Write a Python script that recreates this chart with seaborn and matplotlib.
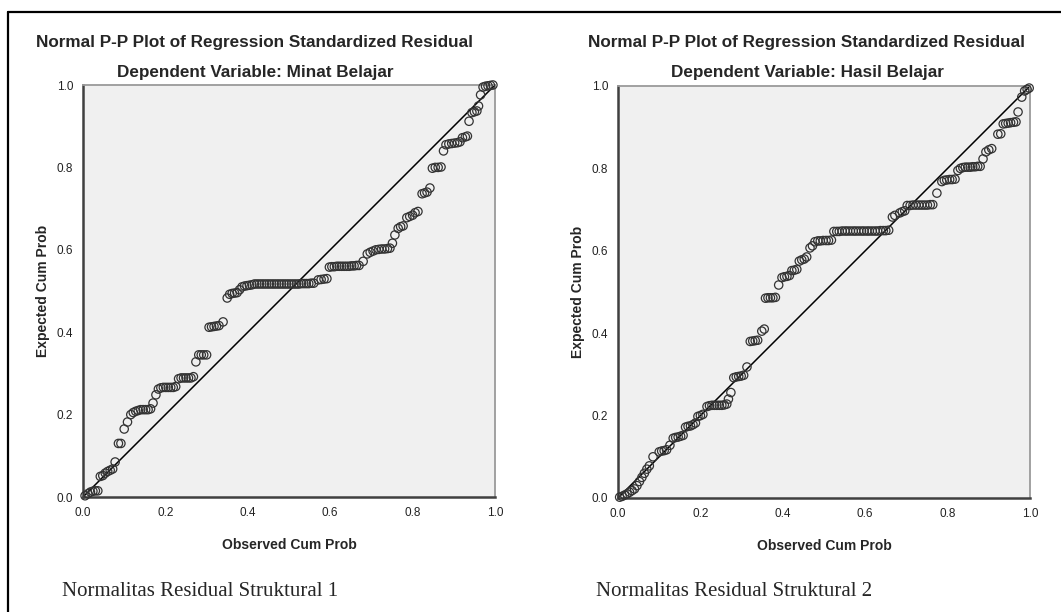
import numpy as np
import pandas as pd
import matplotlib
matplotlib.use("Agg")
import matplotlib.pyplot as plt
from matplotlib.lines import Line2D
import seaborn as sns

# Observed / expected cumulative probabilities
obs_minat = [0.005, 0.012, 0.018, 0.024, 0.030, 0.036, 0.042, 0.048, 0.054, 0.060,
             0.066, 0.072, 0.078, 0.086, 0.092, 0.100, 0.108, 0.116, 0.122, 0.128,
             0.134, 0.140, 0.146, 0.152, 0.158, 0.164, 0.170, 0.177, 0.183, 0.189,
             0.195, 0.201, 0.207, 0.213, 0.219, 0.225, 0.232, 0.238, 0.244, 0.250,
             0.256, 0.262, 0.268, 0.274, 0.281, 0.287, 0.293, 0.300, 0.306, 0.312,
             0.318, 0.324, 0.330, 0.340, 0.350, 0.356, 0.362, 0.368, 0.374, 0.380,
             0.386, 0.392, 0.398, 0.404, 0.410, 0.416, 0.422, 0.428, 0.434, 0.440,
             0.446, 0.452, 0.458, 0.464, 0.470, 0.476, 0.482, 0.488, 0.494, 0.500,
             0.506, 0.512, 0.518, 0.524, 0.530, 0.536, 0.542, 0.548, 0.554, 0.560,
             0.571, 0.578, 0.585, 0.592, 0.598, 0.604, 0.610, 0.616, 0.622, 0.628,
             0.634, 0.640, 0.646, 0.652, 0.658, 0.664, 0.670, 0.680, 0.690, 0.697,
             0.704, 0.711, 0.718, 0.725, 0.732, 0.739, 0.745, 0.751, 0.757, 0.765,
             0.771, 0.777, 0.786, 0.793, 0.800, 0.806, 0.813, 0.823, 0.829, 0.835,
             0.842, 0.848, 0.855, 0.862, 0.869, 0.875, 0.881, 0.888, 0.895, 0.902,
             0.909, 0.915, 0.921, 0.928, 0.933, 0.937, 0.944, 0.950, 0.956, 0.960,
             0.965, 0.971, 0.977, 0.983, 0.989, 0.995]
exp_minat = [0.003, 0.008, 0.012, 0.014, 0.015, 0.015, 0.050, 0.052, 0.058, 0.062,
             0.065, 0.068, 0.085, 0.130, 0.130, 0.165, 0.182, 0.200, 0.205, 0.208,
             0.210, 0.212, 0.212, 0.212, 0.212, 0.214, 0.228, 0.248, 0.262, 0.265,
             0.266, 0.266, 0.266, 0.266, 0.266, 0.268, 0.287, 0.289, 0.289, 0.289,
             0.289, 0.289, 0.292, 0.328, 0.345, 0.345, 0.345, 0.345, 0.412, 0.413,
             0.414, 0.415, 0.416, 0.425, 0.483, 0.492, 0.494, 0.495, 0.496, 0.503,
             0.510, 0.512, 0.513, 0.514, 0.515, 0.517, 0.517, 0.517, 0.517, 0.517,
             0.517, 0.517, 0.517, 0.517, 0.517, 0.517, 0.517, 0.517, 0.517, 0.517,
             0.517, 0.517, 0.517, 0.517, 0.518, 0.518, 0.518, 0.518, 0.519, 0.519,
             0.527, 0.528, 0.529, 0.530, 0.558, 0.559, 0.559, 0.560, 0.560, 0.560,
             0.560, 0.560, 0.560, 0.561, 0.561, 0.562, 0.562, 0.572, 0.590, 0.594,
             0.597, 0.600, 0.601, 0.602, 0.602, 0.603, 0.604, 0.616, 0.636, 0.652,
             0.656, 0.658, 0.678, 0.681, 0.684, 0.690, 0.693, 0.736, 0.738, 0.740,
             0.750, 0.798, 0.800, 0.800, 0.801, 0.840, 0.855, 0.857, 0.858, 0.859,
             0.860, 0.862, 0.872, 0.874, 0.876, 0.912, 0.933, 0.935, 0.937, 0.949,
             0.976, 0.995, 0.997, 0.998, 0.999, 1.000]

obs_hasil = [0.004, 0.010, 0.016, 0.022, 0.028, 0.034, 0.040, 0.046, 0.052, 0.058,
             0.064, 0.070, 0.076, 0.085, 0.100, 0.106, 0.112, 0.118, 0.126, 0.134,
             0.140, 0.146, 0.152, 0.158, 0.164, 0.170, 0.176, 0.182, 0.188, 0.194,
             0.200, 0.206, 0.216, 0.222, 0.228, 0.234, 0.240, 0.246, 0.252, 0.258,
             0.264, 0.268, 0.274, 0.281, 0.287, 0.293, 0.299, 0.305, 0.313, 0.321,
             0.327, 0.333, 0.339, 0.349, 0.355, 0.358, 0.364, 0.370, 0.376, 0.382,
             0.390, 0.398, 0.404, 0.410, 0.416, 0.422, 0.428, 0.434, 0.440, 0.446,
             0.452, 0.458, 0.466, 0.472, 0.478, 0.485, 0.491, 0.498, 0.505, 0.511,
             0.518, 0.524, 0.531, 0.537, 0.544, 0.551, 0.557, 0.564, 0.571, 0.577,
             0.584, 0.591, 0.597, 0.604, 0.610, 0.617, 0.624, 0.630, 0.637, 0.644,
             0.650, 0.657, 0.666, 0.672, 0.684, 0.690, 0.696, 0.702, 0.709, 0.716,
             0.723, 0.730, 0.737, 0.744, 0.751, 0.758, 0.764, 0.774, 0.786, 0.792,
             0.798, 0.805, 0.811, 0.818, 0.825, 0.831, 0.837, 0.843, 0.849, 0.855,
             0.861, 0.867, 0.873, 0.879, 0.886, 0.893, 0.900, 0.907, 0.922, 0.929,
             0.935, 0.941, 0.947, 0.953, 0.960, 0.966, 0.971, 0.980, 0.987, 0.993,
             0.998]
exp_hasil = [0.002, 0.004, 0.007, 0.010, 0.014, 0.018, 0.022, 0.030, 0.040, 0.050,
             0.060, 0.070, 0.078, 0.100, 0.112, 0.114, 0.115, 0.117, 0.128, 0.145,
             0.147, 0.148, 0.150, 0.152, 0.172, 0.174, 0.175, 0.178, 0.182, 0.198,
             0.200, 0.203, 0.222, 0.224, 0.225, 0.225, 0.225, 0.225, 0.225, 0.226,
             0.228, 0.240, 0.256, 0.292, 0.294, 0.295, 0.296, 0.298, 0.318, 0.380,
             0.381, 0.382, 0.383, 0.405, 0.410, 0.485, 0.486, 0.486, 0.486, 0.487,
             0.517, 0.535, 0.537, 0.538, 0.540, 0.552, 0.553, 0.555, 0.575, 0.578,
             0.580, 0.585, 0.607, 0.612, 0.622, 0.624, 0.624, 0.625, 0.625, 0.625,
             0.626, 0.647, 0.647, 0.647, 0.648, 0.648, 0.648, 0.648, 0.648, 0.648,
             0.648, 0.648, 0.648, 0.648, 0.648, 0.648, 0.648, 0.648, 0.649, 0.649,
             0.649, 0.650, 0.682, 0.686, 0.692, 0.695, 0.697, 0.710, 0.710, 0.711,
             0.711, 0.711, 0.711, 0.711, 0.711, 0.712, 0.712, 0.740, 0.768, 0.771,
             0.772, 0.773, 0.773, 0.774, 0.795, 0.800, 0.802, 0.803, 0.803, 0.803,
             0.804, 0.804, 0.805, 0.805, 0.823, 0.840, 0.845, 0.848, 0.883, 0.884,
             0.908, 0.909, 0.910, 0.911, 0.912, 0.913, 0.937, 0.973, 0.988, 0.992,
             0.995]

titles = ["Normal P-P Plot of Regression Standardized Residual"] * 2
subtitles = ["Dependent Variable: Minat Belajar", "Dependent Variable: Hasil Belajar"]
captions = ["Normalitas Residual Struktural 1", "Normalitas Residual Struktural 2"]
ticks = [0.0, 0.2, 0.4, 0.6, 0.8, 1.0]
diag = [0.0, 1.0]

sns.set_style("white")
plt.rcParams["font.family"] = ["Liberation Sans", "DejaVu Sans"]

W, H = 1061, 612
fig = plt.figure(figsize=(W / 100, H / 100), dpi=100)

# frame lines of the table cell (top and left)
fig.add_artist(Line2D([8 / W, 1], [1 - 12 / H, 1 - 12 / H], color="black", lw=1.6))
fig.add_artist(Line2D([8 / W, 8 / W], [0, 1 - 12 / H], color="black", lw=1.6))

# (obs, exp, axes left px, axes top px, title centre px, caption left px)
panels = [
    (obs_minat, exp_minat, 83, 85, 255, 62),
    (obs_hasil, exp_hasil, 618, 86, 807, 596),
]

tick_font = ["Liberation Sans Narrow", "Liberation Sans"]

for i, (obs, exp, px, py, tx, cx) in enumerate(panels):
    ax = fig.add_axes([px / W, 1 - (py + 412) / H, 412 / W, 412 / H])
    ax.set_facecolor("#f0f0f0")
    df = pd.DataFrame({"obs": obs, "exp": exp})
    sns.lineplot(x=diag, y=diag, ax=ax, color="black", lw=1.1)
    sns.scatterplot(data=df, x="obs", y="exp", ax=ax, s=36, marker="o",
                    facecolor="none", edgecolor="#333333", linewidth=0.9,
                    clip_on=False, zorder=3)
    ax.set_xlim(0, 1)
    ax.set_ylim(0, 1)
    ax.set_xticks(ticks)
    ax.set_yticks(ticks)
    ax.set_xticklabels([f"{t:.1f}" for t in ticks], family=tick_font,
                       fontsize=8.5, color="#222222")
    ax.set_yticklabels([f"{t:.1f}" for t in ticks], family=tick_font,
                       fontsize=8.5, color="#222222")
    ax.tick_params(axis="both", direction="out", length=5, width=1.2, color="#333333", pad=2)
    for side in ["left", "bottom"]:
        ax.spines[side].set_color("#404040")
        ax.spines[side].set_linewidth(1.8)
    for side in ["top", "right"]:
        ax.spines[side].set_color("#9a9a9a")
        ax.spines[side].set_linewidth(1.3)
    ax.set_xlabel("Observed Cum Prob", fontsize=10, fontweight="bold", labelpad=14)
    ax.set_ylabel("Expected Cum Prob", fontsize=10, fontweight="bold", labelpad=5)

    fig.text(tx / W, 1 - 43 / H, titles[i], ha="center", va="center",
             fontsize=12.3, fontweight="bold")
    fig.text(tx / W, 1 - 72 / H, subtitles[i], ha="center", va="center",
             fontsize=12.3, fontweight="bold")
    fig.text(cx / W, 1 - 591 / H, captions[i], ha="left", va="center", fontsize=15,
             family=["Liberation Serif", "DejaVu Serif"])

fig.savefig("out.png", dpi=100, facecolor="white")
